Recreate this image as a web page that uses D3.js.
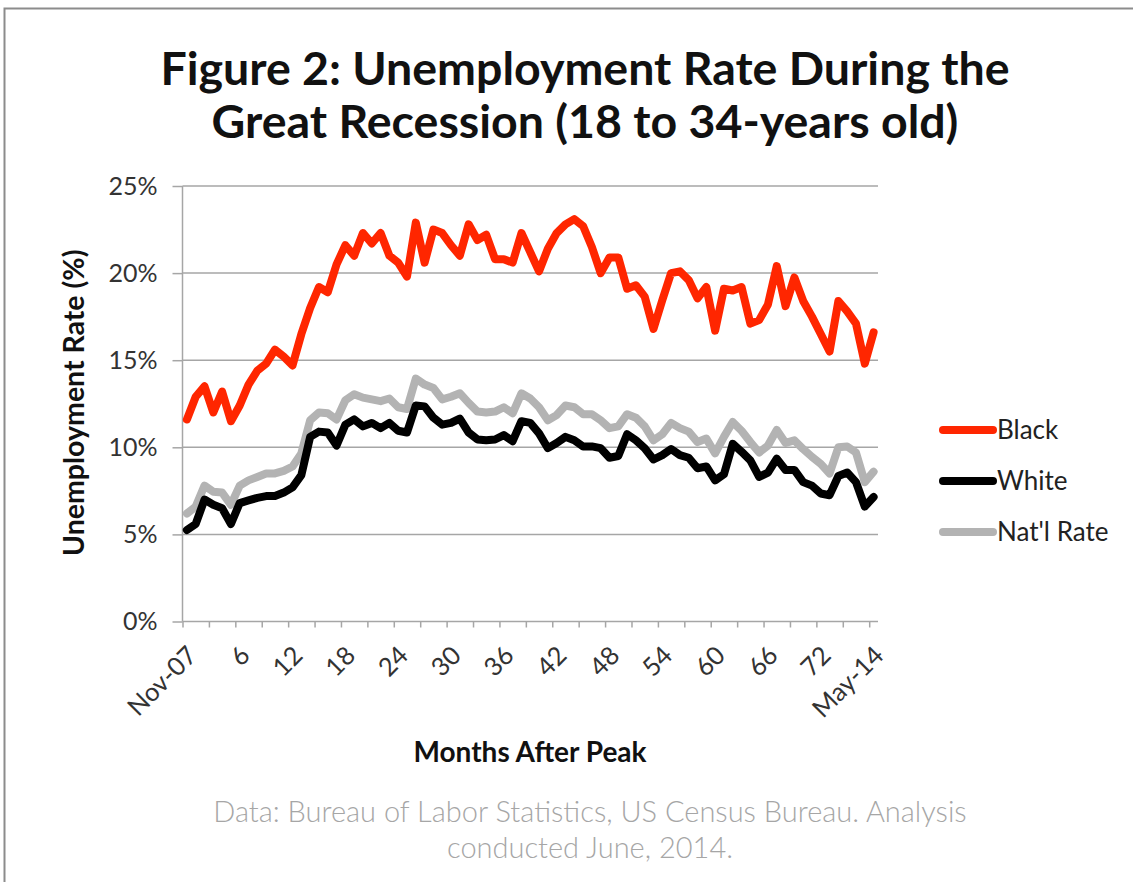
<!DOCTYPE html>
<html>
<head>
<meta charset="utf-8">
<script src="https://cdn.jsdelivr.net/npm/d3@7"></script>
<style>
  html, body { margin: 0; padding: 0; background: #fff; }
  svg { display: block; font-family: Lato, "Open Sans", sans-serif; }
</style>
</head>
<body>
<svg id="chart" width="1133" height="882"></svg>
<script>
// Months after the Nov-07 peak (0..78)
const months = d3.range(0, 79);

// Unemployment rates (%), 18 to 34-year-olds
const black = [11.6, 12.9, 13.5, 12.0, 13.2, 11.5, 12.4, 13.6, 14.4, 14.8, 15.6, 15.2, 14.7,
  16.5, 18.0, 19.2, 18.9, 20.5, 21.6, 21.0, 22.3, 21.7, 22.3, 21.0, 20.6, 19.8,
  22.9, 20.6, 22.5, 22.3, 21.6, 21.0, 22.8, 21.9, 22.2, 20.8, 20.8, 20.6, 22.3,
  21.2, 20.1, 21.4, 22.3, 22.8, 23.1, 22.7, 21.5, 20.0, 20.9, 20.9, 19.1, 19.3,
  18.65, 16.8, 18.45, 20.0, 20.1, 19.6, 18.55, 19.2, 16.7, 19.1, 19.0, 19.2, 17.1,
  17.3, 18.2, 20.4, 18.1, 19.75, 18.4, 17.5, 16.5, 15.5, 18.4, 17.8, 17.1, 14.8, 16.6];

const white = [5.25, 5.6, 7.0, 6.7, 6.5, 5.6, 6.8, 6.95, 7.1, 7.2, 7.2, 7.4, 7.7,
  8.4, 10.6, 10.9, 10.85, 10.1, 11.3, 11.6, 11.2, 11.4, 11.1, 11.4, 10.95, 10.85,
  12.4, 12.35, 11.7, 11.3, 11.4, 11.65, 10.85, 10.45, 10.4, 10.45, 10.7, 10.35, 11.5,
  11.4, 10.8, 9.95, 10.25, 10.6, 10.4, 10.05, 10.05, 9.95, 9.4, 9.5, 10.75, 10.4,
  9.95, 9.3, 9.55, 9.9, 9.55, 9.4, 8.8, 8.9, 8.1, 8.45, 10.2, 9.75, 9.25,
  8.3, 8.55, 9.35, 8.7, 8.7, 8.0, 7.8, 7.35, 7.25, 8.35, 8.55, 8.0, 6.6, 7.15];

const natl = [6.2, 6.6, 7.8, 7.45, 7.4, 6.7, 7.8, 8.1, 8.3, 8.5, 8.5, 8.65, 8.9,
  9.65, 11.55, 12.0, 11.95, 11.6, 12.7, 13.05, 12.85, 12.75, 12.65, 12.8, 12.3, 12.2,
  13.95, 13.6, 13.4, 12.75, 12.9, 13.1, 12.55, 12.05, 12.0, 12.05, 12.3, 11.95, 13.1,
  12.8, 12.3, 11.55, 11.85, 12.4, 12.3, 11.9, 11.9, 11.55, 11.1, 11.2, 11.9, 11.7,
  11.2, 10.4, 10.75, 11.4, 11.1, 10.9, 10.3, 10.5, 9.65, 10.6, 11.45, 10.95, 10.3,
  9.7, 10.1, 11.0, 10.25, 10.4, 9.9, 9.45, 9.05, 8.5, 10.0, 10.05, 9.7, 8.0, 8.6];

const seriesNames = ["Black", "White", "Nat'l Rate"];
const seriesColors = ["#ff2600", "#000000", "#b3b3b3"];

const yTicks = [0, 5, 10, 15, 20, 25];
const xTicks = d3.range(0, 79, 6);
const xTickLabel = m => m === 0 ? "Nov-07" : (m === 78 ? "May-14" : String(m));

const svg = d3.select("#chart");

// Outer frame
svg.append("rect")
  .attr("x", 4.5).attr("y", 8.5)
  .attr("width", 1140).attr("height", 890)
  .attr("fill", "none").attr("stroke", "#8c8c8c").attr("stroke-width", 2);

// Title
const title = svg.append("text")
  .attr("text-anchor", "middle")
  .attr("font-weight", "bold")
  .attr("font-size", 46.5)
  .attr("fill", "#111");
title.append("tspan").attr("x", 585).attr("y", 85).text("Figure 2: Unemployment Rate During the");
title.append("tspan").attr("x", 585).attr("y", 138).text("Great Recession (18 to 34-years old)");

const plot = { left: 182.5, right: 878, top: 186, bottom: 621.5 };

// Category slots: each month occupies one band, points sit at the band centre
const x = d3.scaleLinear().domain([0, 79]).range([plot.left, plot.right]);
const xc = m => x(m + 0.5);
const y = d3.scaleLinear().domain([0, 25]).range([plot.bottom, plot.top]);

// Horizontal gridlines
svg.append("g")
  .selectAll("line")
  .data(yTicks.filter(d => d > 0))
  .join("line")
  .attr("x1", plot.left).attr("x2", plot.right)
  .attr("y1", d => y(d)).attr("y2", d => y(d))
  .attr("stroke", "#a6a6a6").attr("stroke-width", 1.5);

// Y axis
const yAxis = svg.append("g")
  .attr("transform", `translate(${plot.left},0)`)
  .call(d3.axisLeft(y).tickValues(yTicks).tickSize(10).tickPadding(15).tickFormat(d => d + "%"));
yAxis.select(".domain").attr("stroke", "#a6a6a6").attr("stroke-width", 1.5)
  .attr("d", `M0,${plot.top}V${plot.bottom}`);
yAxis.selectAll(".tick line").attr("stroke", "#a6a6a6").attr("stroke-width", 1.5);
yAxis.selectAll(".tick text")
  .attr("font-size", 25).attr("fill", "#333").attr("font-family", "Lato, sans-serif");

// X axis: tick marks every 3 months on the category boundaries
const xAxis = svg.append("g")
  .attr("transform", `translate(0,${plot.bottom})`)
  .call(d3.axisBottom(x).tickValues(d3.range(0, 79, 3)).tickSize(6).tickFormat(""));
xAxis.select(".domain").attr("stroke", "#a6a6a6").attr("stroke-width", 1.5)
  .attr("d", `M${plot.left},0H${plot.right}`);
xAxis.selectAll(".tick line").attr("stroke", "#a6a6a6").attr("stroke-width", 1.5);

svg.append("g")
  .selectAll("text")
  .data(xTicks)
  .join("text")
  .attr("transform", d => `translate(${xc(d) - 1},${plot.bottom + 23}) rotate(-45)`)
  .attr("text-anchor", "end")
  .attr("dy", "0.7em")
  .attr("font-size", 25.5)
  .attr("fill", "#333")
  .text(xTickLabel);

// Axis titles
svg.append("text")
  .attr("transform", `translate(84,${(plot.top + plot.bottom) / 2 - 1}) rotate(-90)`)
  .attr("text-anchor", "middle")
  .attr("font-weight", "bold")
  .attr("font-size", 28.5)
  .attr("fill", "#111")
  .text("Unemployment Rate (%)");

svg.append("text")
  .attr("x", 530).attr("y", 762)
  .attr("text-anchor", "middle")
  .attr("font-weight", "bold")
  .attr("font-size", 28)
  .attr("fill", "#111")
  .text("Months After Peak");

// Series lines (national first, then white, then black on top)
const seriesData = [black, white, natl];
const line = d3.line().x((d, i) => xc(months[i])).y(d => y(d));
[2, 1, 0].forEach(k => {
  svg.append("path")
    .datum(seriesData[k])
    .attr("d", line)
    .attr("fill", "none")
    .attr("stroke", seriesColors[k])
    .attr("stroke-width", 8)
    .attr("stroke-linejoin", "round")
    .attr("stroke-linecap", "round");
});

// Legend
const legend = svg.append("g");
seriesNames.forEach((name, i) => {
  const ly = 430 + i * 51;
  legend.append("line")
    .attr("x1", 943).attr("x2", 993)
    .attr("y1", ly).attr("y2", ly)
    .attr("stroke", seriesColors[i]).attr("stroke-width", 8)
    .attr("stroke-linecap", "round");
  legend.append("text")
    .attr("x", 997).attr("y", ly)
    .attr("dy", "0.36em")
    .attr("font-size", 26)
    .attr("fill", "#222")
    .text(name);
});

// Source note
const note = svg.append("text")
  .attr("text-anchor", "middle")
  .attr("font-size", 29)
  .attr("font-weight", 300)
  .attr("fill", "#a6a6a6");
note.append("tspan").attr("x", 590).attr("y", 822).text("Data: Bureau of Labor Statistics, US Census Bureau. Analysis");
note.append("tspan").attr("x", 590).attr("y", 858).text("conducted June, 2014.");
</script>
</body>
</html>
